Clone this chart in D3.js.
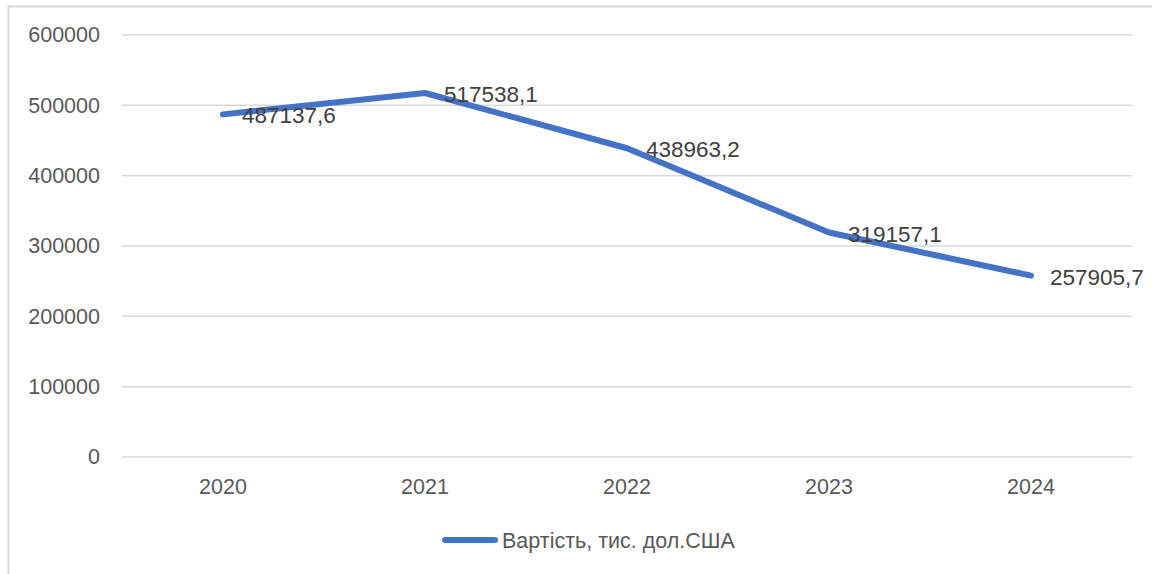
<!DOCTYPE html>
<html>
<head>
<meta charset="utf-8">
<script src="https://cdn.jsdelivr.net/npm/d3@7"></script>
<style>
  body { margin: 0; background: #fff; }
  svg { display: block; }
</style>
</head>
<body>
<svg id="chart"></svg>
<script>
// chart data
const years = ["2020", "2021", "2022", "2023", "2024"];
const values = [487137.6, 517538.1, 438963.2, 319157.1, 257905.7];
const valueLabels = ["487137,6", "517538,1", "438963,2", "319157,1", "257905,7"];
const yTicks = [0, 100000, 200000, 300000, 400000, 500000, 600000];
const seriesName = "Вартість, тис. дол.США";

const width = 1152, height = 574;
const margin = {top: 35, right: 20, bottom: 117, left: 122};
const blue = "#4472c4", grid = "#d9d9d9", textCol = "#595959";
const font = "'Liberation Sans', Arial, sans-serif";

const svg = d3.select("#chart")
    .attr("width", width)
    .attr("height", height)
    .attr("font-family", font);

// outer chart border
svg.append("rect")
    .attr("x", 8.5).attr("y", 6.5)
    .attr("width", width + 10).attr("height", height + 10)
    .attr("fill", "none")
    .attr("stroke", grid)
    .attr("stroke-width", 2);

const x = d3.scaleBand()
    .domain(years)
    .range([margin.left, width - margin.right]);

const y = d3.scaleLinear()
    .domain([0, 600000])
    .range([height - margin.bottom, margin.top]);

// gridlines
svg.append("g")
  .selectAll("line")
  .data(yTicks)
  .join("line")
    .attr("x1", margin.left)
    .attr("x2", width - margin.right)
    .attr("y1", d => y(d))
    .attr("y2", d => y(d))
    .attr("stroke", grid)
    .attr("stroke-width", 1.5);

// y axis labels
const yAxis = svg.append("g")
    .attr("transform", `translate(${margin.left},0)`)
    .call(d3.axisLeft(y).tickValues(yTicks).tickFormat(d3.format("d")).tickSize(0).tickPadding(22));
yAxis.select(".domain").remove();
yAxis.selectAll("text")
    .attr("font-family", font)
    .attr("font-size", 21.5)
    .attr("fill", textCol);

// x axis labels
const xAxis = svg.append("g")
    .attr("transform", `translate(0,${height - margin.bottom})`)
    .call(d3.axisBottom(x).tickSize(0).tickPadding(22));
xAxis.select(".domain").remove();
xAxis.selectAll("text")
    .attr("font-family", font)
    .attr("font-size", 21.5)
    .attr("fill", textCol);

// the line
const line = d3.line()
    .x((d, i) => x(years[i]) + x.bandwidth() / 2)
    .y(d => y(d));

svg.append("path")
    .datum(values)
    .attr("d", line)
    .attr("fill", "none")
    .attr("stroke", blue)
    .attr("stroke-width", 6)
    .attr("stroke-linecap", "round")
    .attr("stroke-linejoin", "round");

// data labels
svg.append("g")
  .selectAll("text")
  .data(values)
  .join("text")
    .attr("x", (d, i) => x(years[i]) + x.bandwidth() / 2 + 19)
    .attr("y", d => y(d))
    .attr("dy", "0.4em")
    .attr("font-size", 22.5)
    .attr("fill", "#404040")
    .text((d, i) => valueLabels[i]);

// legend
const legend = svg.append("g").attr("transform", "translate(443,540)");
legend.append("line")
    .attr("x1", 2).attr("x2", 52)
    .attr("stroke", blue)
    .attr("stroke-width", 6)
    .attr("stroke-linecap", "round");
legend.append("text")
    .attr("x", 59)
    .attr("dy", "0.36em")
    .attr("font-size", 21.5)
    .attr("fill", textCol)
    .text(seriesName);
</script>
</body>
</html>
